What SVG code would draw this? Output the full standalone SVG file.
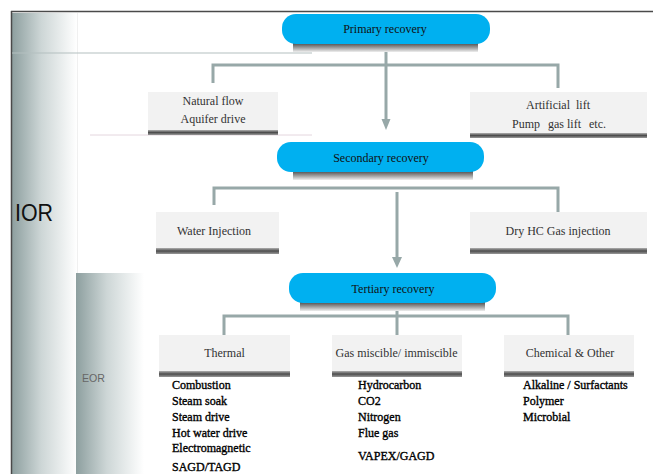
<svg xmlns="http://www.w3.org/2000/svg" width="653" height="474" viewBox="0 0 653 474">
<style>
.pill{fill:#00b0f0}
.box{fill:#f2f2f2}
.pt{font-size:12px;fill:#111;text-anchor:middle}
.bt{font-size:12px;fill:#333;text-anchor:middle}
.bs{font-size:12px;fill:#333}
.lt{font-size:12px;fill:#000;stroke:#000;stroke-width:0.35}
.conn{fill:none;stroke:#97a8a8;stroke-width:3}
.head{fill:#97a8a8}
</style>
<defs>
<linearGradient id="bar" x1="0" y1="0" x2="1" y2="0">
<stop offset="0" stop-color="#8d9f9f"/>
<stop offset="0.45" stop-color="#cdd6d6"/>
<stop offset="1" stop-color="#ffffff"/>
</linearGradient>
<linearGradient id="psh" x1="0" y1="0" x2="0" y2="1">
<stop offset="0" stop-color="#4a4a4a"/>
<stop offset="0.5" stop-color="#9a9a9a"/>
<stop offset="1" stop-color="#eeeeee"/>
</linearGradient>
<linearGradient id="bsh" x1="0" y1="0" x2="0" y2="1">
<stop offset="0" stop-color="#b0b0b0"/>
<stop offset="0.5" stop-color="#4d4d4d"/>
<stop offset="1" stop-color="#9a9a9a"/>
</linearGradient>
</defs>
<rect width="653" height="474" fill="#ffffff"/>
<g id="frame">
<rect x="12" y="13" width="65" height="461" fill="url(#bar)"/>
<line x1="77.5" y1="13" x2="77.5" y2="273" stroke="#f0f0f0" stroke-width="1"/>
<line x1="11" y1="11.5" x2="653" y2="11.5" stroke="#4a4a4a" stroke-width="1.5"/>
<line x1="11.5" y1="11" x2="11.5" y2="474" stroke="#4a4a4a" stroke-width="1.5"/>
<line x1="12" y1="53" x2="312" y2="53" stroke="#b3c0c0" stroke-width="1.2"/>
<line x1="90" y1="135" x2="312" y2="135" stroke="#e4d6de" stroke-width="1"/>
<rect x="76" y="273" width="68" height="201" fill="url(#bar)"/>
</g>
<g id="label-ior"><text x="15" y="221" font-family="'Liberation Sans', Arial, sans-serif" font-size="24" fill="#111" textLength="38" lengthAdjust="spacingAndGlyphs">IOR</text></g>
<g id="label-eor"><text x="82" y="382" font-family="'Liberation Sans', Arial, sans-serif" font-size="10" fill="#666" textLength="23" lengthAdjust="spacingAndGlyphs">EOR</text></g>
<g id="connectors">
<path class="conn" d="M213,83 V65 H558 V88"/>
<path class="conn" d="M386,44 V121"/>
<polygon class="head" points="381.5,119 390.5,119 386,130"/>
<path class="conn" d="M214,205 V188 H558 V212"/>
<path class="conn" d="M397,192 V259"/>
<polygon class="head" points="392,257 402,257 397,268"/>
<path class="conn" d="M224,335 V316 H568 V335"/>
<path class="conn" d="M397,311 V335"/>
</g>
<g font-family="'Liberation Serif', 'Times New Roman', Times, serif">
<g id="node-primary">
<rect x="293" y="43" width="185" height="9" fill="url(#psh)"/>
<rect class="pill" x="282" y="14" width="208" height="30" rx="14"/>
<text class="pt" x="385" y="33">Primary recovery</text>
</g>
<g id="node-natural">
<rect class="box" x="148" y="92" width="130" height="40"/>
<rect x="148" y="130" width="130" height="5" fill="url(#bsh)"/>
<text class="bt" x="213" y="105">Natural flow</text>
<text class="bt" x="213" y="123">Aquifer drive</text>
</g>
<g id="node-artificial">
<rect class="box" x="470" y="92" width="177" height="42"/>
<rect x="470" y="133" width="177" height="5" fill="url(#bsh)"/>
<text class="bt" x="558" y="109" xml:space="preserve">Artificial  lift</text>
<text class="bs" x="512" y="128">Pump</text>
<text class="bs" x="548" y="128">gas lift</text>
<text class="bs" x="589" y="128">etc.</text>
</g>
<g id="node-secondary">
<rect x="293" y="171" width="180" height="9" fill="url(#psh)"/>
<rect class="pill" x="277" y="142" width="207" height="30" rx="14"/>
<text class="pt" x="381" y="162">Secondary recovery</text>
</g>
<g id="node-water">
<rect class="box" x="156" y="212" width="123" height="37"/>
<rect x="156" y="248" width="123" height="6" fill="url(#bsh)"/>
<text class="bt" x="214" y="235">Water Injection</text>
</g>
<g id="node-dryhc">
<rect class="box" x="470" y="212" width="177" height="37"/>
<rect x="470" y="248" width="177" height="6" fill="url(#bsh)"/>
<text class="bt" x="558" y="235">Dry HC Gas injection</text>
</g>
<g id="node-tertiary">
<rect x="300" y="302" width="185" height="9" fill="url(#psh)"/>
<rect class="pill" x="289" y="273" width="207" height="30" rx="14"/>
<text class="pt" x="393" y="293">Tertiary recovery</text>
</g>
<g id="node-thermal">
<rect class="box" x="159" y="335" width="131" height="37"/>
<rect x="159" y="371" width="131" height="6" fill="url(#bsh)"/>
<text class="bt" x="224.5" y="357">Thermal</text>
<text class="lt" x="172" y="389">Combustion</text>
<text class="lt" x="172" y="405">Steam soak</text>
<text class="lt" x="172" y="421">Steam drive</text>
<text class="lt" x="172" y="437">Hot water drive</text>
<text class="lt" x="172" y="452">Electromagnetic</text>
<text class="lt" x="172" y="471">SAGD/TAGD</text>
</g>
<g id="node-gas">
<rect class="box" x="332" y="335" width="130" height="37"/>
<rect x="332" y="371" width="130" height="6" fill="url(#bsh)"/>
<text class="bt" x="396.5" y="357">Gas miscible/ immiscible</text>
<text class="lt" x="358" y="389">Hydrocarbon</text>
<text class="lt" x="358" y="405">CO2</text>
<text class="lt" x="358" y="421">Nitrogen</text>
<text class="lt" x="358" y="437">Flue gas</text>
<text class="lt" x="358" y="460">VAPEX/GAGD</text>
</g>
<g id="node-chemical">
<rect class="box" x="504" y="335" width="130" height="37"/>
<rect x="504" y="371" width="130" height="6" fill="url(#bsh)"/>
<text class="bt" x="570" y="357">Chemical &amp; Other</text>
<text class="lt" x="523" y="389">Alkaline / Surfactants</text>
<text class="lt" x="523" y="405">Polymer</text>
<text class="lt" x="523" y="421">Microbial</text>
</g>
</g>
</svg>
